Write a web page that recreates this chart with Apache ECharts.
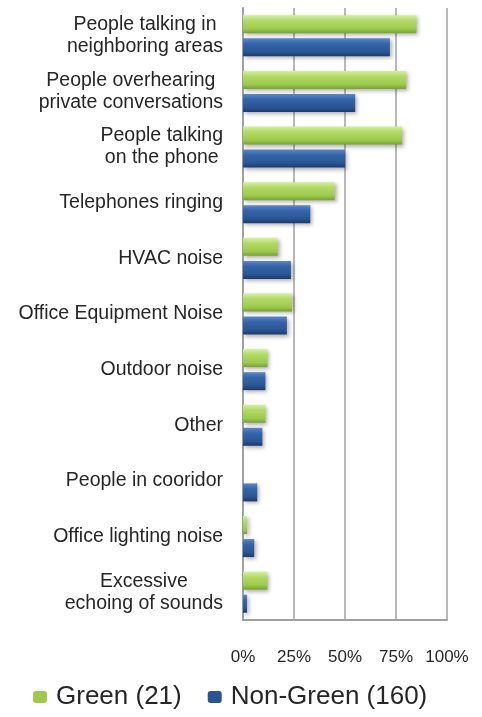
<!DOCTYPE html>
<html>
<head>
<meta charset="utf-8">
<script src="https://cdn.jsdelivr.net/npm/echarts@6/dist/echarts.min.js"></script>
<style>
  html, body { margin: 0; padding: 0; background: #fff; }
  #chart { width: 482px; height: 717px; }
</style>
</head>
<body>
<div id="chart"></div>
<script>
// categories, top to bottom
const categories = [
  'People talking in\nneighboring areas',
  'People overhearing\nprivate conversations',
  'People talking\non the phone',
  'Telephones ringing',
  'HVAC noise',
  'Office Equipment Noise',
  'Outdoor noise',
  'Other',
  'People in cooridor',
  'Office lighting noise',
  'Excessive\nechoing of sounds'
];
// percent of respondents
const greenValues = [85, 80, 78, 45, 17, 24, 12, 11, 0, 2, 12];
const nonGreenValues = [72, 55, 50, 33, 23.5, 21.5, 11, 9.5, 7, 5.5, 2];
const xTicks = [0, 25, 50, 75, 100];

const chart = echarts.init(document.getElementById('chart'));

const greenFill = new echarts.graphic.LinearGradient(0, 0, 0, 1, [
  { offset: 0, color: '#d6eea0' },
  { offset: 0.3, color: '#b2da66' },
  { offset: 0.75, color: '#9cca4c' },
  { offset: 1, color: '#76a232' }
]);
const blueFill = new echarts.graphic.LinearGradient(0, 0, 0, 1, [
  { offset: 0, color: '#5a88c8' },
  { offset: 0.3, color: '#3465a8' },
  { offset: 0.75, color: '#2a5593' },
  { offset: 1, color: '#1b3b6c' }
]);

const barShadow = {
  shadowBlur: 4,
  shadowOffsetX: 2,
  shadowOffsetY: 2,
  shadowColor: 'rgba(0,0,0,0.3)'
};

chart.setOption({
  animation: false,
  grid: { left: 243, right: 35, top: 8, bottom: 97 },
  legend: {
    left: 28,
    top: 679,
    itemWidth: 14,
    itemHeight: 12,
    itemGap: 26,
    textStyle: {
      fontFamily: 'Liberation Sans',
      fontSize: 26,
      color: '#262626',
      padding: [0, 0, 0, 4]
    },
    data: [
      { name: 'Green (21)', itemStyle: { color: '#9cca4c' } },
      { name: 'Non-Green (160)', itemStyle: { color: '#2a5593' } }
    ]
  },
  xAxis: {
    type: 'value',
    min: 0,
    max: 100,
    interval: 25,
    axisLine: { show: true, lineStyle: { color: '#a0a0a4', width: 2 } },
    axisTick: { show: false },
    splitLine: { show: true, lineStyle: { color: '#a0a0a4', width: 1.5 } },
    axisLabel: {
      margin: 29,
      fontFamily: 'Liberation Sans',
      fontSize: 17,
      color: '#262626',
      formatter: v => xTicks.includes(v) ? v + '%' : ''
    }
  },
  yAxis: {
    type: 'category',
    inverse: true,
    data: categories,
    axisLine: { show: true, lineStyle: { color: '#a0a0a4', width: 2 } },
    axisTick: { show: false },
    axisLabel: {
      margin: 20,
      formatter: v => v.split('\n').map(s => '{c|' + s + '}').join('\n'),
      rich: {
        c: {
          align: 'center',
          fontFamily: 'Liberation Sans',
          fontSize: 19.5,
          lineHeight: 22,
          color: '#262626'
        }
      }
    }
  },
  series: [
    {
      name: 'Green (21)',
      type: 'bar',
      data: greenValues,
      barWidth: 18,
      barGap: '28%',
      itemStyle: Object.assign({ color: greenFill }, barShadow)
    },
    {
      name: 'Non-Green (160)',
      type: 'bar',
      data: nonGreenValues,
      barWidth: 18,
      barGap: '28%',
      itemStyle: Object.assign({ color: blueFill }, barShadow)
    }
  ]
});
</script>
</body>
</html>
